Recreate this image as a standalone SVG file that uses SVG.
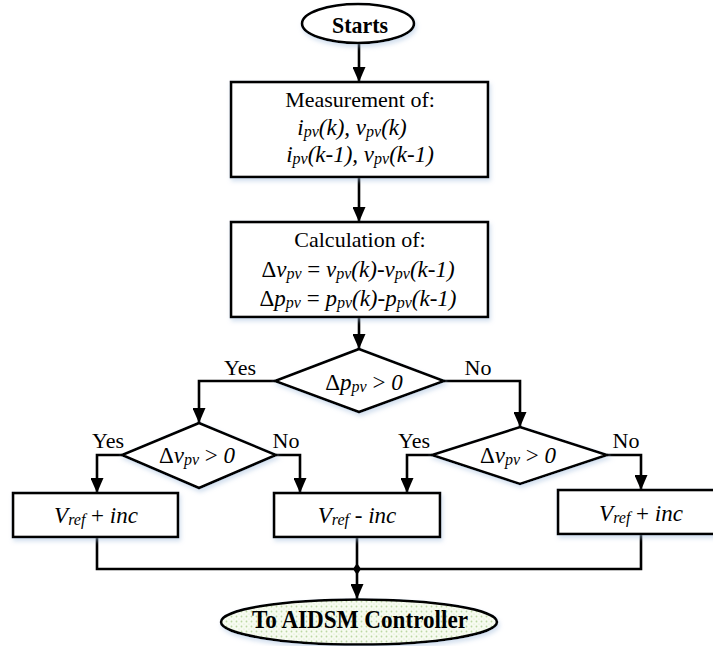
<svg xmlns="http://www.w3.org/2000/svg" width="713" height="646" viewBox="0 0 713 646">
  <style>
    .shape { fill: #ffffff; stroke: #000000; stroke-width: 2.6; filter: url(#soft); }
    .term { stroke: #000000; stroke-width: 2.6; filter: url(#soft); }
    .wire { fill: none; stroke: #000000; stroke-width: 2.6; }
    text { font-family: 'Liberation Serif', Tinos, 'Times New Roman', Times, 'DejaVu Serif', 'Noto Serif', serif; fill: #000; }
    .lbl { font-size: 22px; }
    .math { font-size: 23px; font-style: italic; }
    .up { font-style: normal; }
    .sub { font-size: 16px; }
    .bold { font-weight: bold; }
  </style>
  <defs>
    <marker id="arrow" markerUnits="userSpaceOnUse" markerWidth="15" markerHeight="13" refX="15" refY="6.5" orient="auto">
      <path d="M0,0 L15,6.5 L0,13 z" fill="#000"/>
    </marker>
    <filter id="soft" x="-10%" y="-20%" width="120%" height="150%">
      <feDropShadow dx="1.5" dy="3" stdDeviation="2" flood-color="#9fbbdc" flood-opacity="0.45"/>
    </filter>
    <pattern id="dots" width="5" height="5" patternUnits="userSpaceOnUse">
      <rect width="5" height="5" fill="#f7fbf1"/>
      <circle cx="1.5" cy="1.5" r="0.9" fill="#bcd9a3"/>
      <circle cx="4" cy="4" r="0.6" fill="#d4e7c2"/>
    </pattern>
  </defs>

  <!-- connectors -->
  <g id="connectors">
    <path class="wire" d="M359,43 V82" marker-end="url(#arrow)"/>
    <path class="wire" d="M359,177 V222" marker-end="url(#arrow)"/>
    <path class="wire" d="M359,317 V349" marker-end="url(#arrow)"/>
    <path class="wire" d="M275,381 H199 V423" marker-end="url(#arrow)"/>
    <path class="wire" d="M444,381 H520 V427" marker-end="url(#arrow)"/>
    <path class="wire" d="M122,455 H97 V493" marker-end="url(#arrow)"/>
    <path class="wire" d="M276,455 H300 V493" marker-end="url(#arrow)"/>
    <path class="wire" d="M432,455 H407 V493" marker-end="url(#arrow)"/>
    <path class="wire" d="M607,455 H641 V490" marker-end="url(#arrow)"/>
    <path class="wire" d="M97,537 V569 H641 V534"/>
    <path class="wire" d="M357,537 V569"/>
    <path class="wire" d="M357,569 V599" marker-end="url(#arrow)"/>
    <path d="M357,563 L361,569 L357,575 L353,569 z" fill="#000"/>
  </g>

  <!-- start terminal -->
  <g id="start">
    <ellipse class="term" cx="358" cy="23.5" rx="56" ry="19.5" fill="#ffffff"/>
    <text class="bold" x="360" y="33" font-size="24" text-anchor="middle" textLength="56" lengthAdjust="spacingAndGlyphs">Starts</text>
  </g>

  <!-- measurement block -->
  <g id="measure">
    <rect class="shape" x="231" y="82" width="257" height="95"/>
    <text class="lbl" x="360" y="107" text-anchor="middle">Measurement of:</text>
    <text class="math" x="352" y="135" text-anchor="middle">i<tspan class="sub" dy="2">pv</tspan><tspan dy="-2">(k), v</tspan><tspan class="sub" dy="2">pv</tspan><tspan dy="-2">(k)</tspan></text>
    <text class="math" x="360" y="162" text-anchor="middle">i<tspan class="sub" dy="2">pv</tspan><tspan dy="-2">(k-1), v</tspan><tspan class="sub" dy="2">pv</tspan><tspan dy="-2">(k-1)</tspan></text>
  </g>

  <!-- calculation block -->
  <g id="calc">
    <rect class="shape" x="231" y="222" width="257" height="95"/>
    <text class="lbl" x="360" y="247" text-anchor="middle">Calculation of:</text>
    <text class="math" x="358" y="277" text-anchor="middle"><tspan class="up">Δ</tspan>v<tspan class="sub" dy="2">pv</tspan><tspan class="up" dy="-2"> = </tspan>v<tspan class="sub" dy="2">pv</tspan><tspan dy="-2">(k)-v</tspan><tspan class="sub" dy="2">pv</tspan><tspan dy="-2">(k-1)</tspan></text>
    <text class="math" x="358" y="306" text-anchor="middle"><tspan class="up">Δ</tspan>p<tspan class="sub" dy="2">pv</tspan><tspan class="up" dy="-2"> = </tspan>p<tspan class="sub" dy="2">pv</tspan><tspan dy="-2">(k)-p</tspan><tspan class="sub" dy="2">pv</tspan><tspan dy="-2">(k-1)</tspan></text>
  </g>

  <!-- decision: power change -->
  <g id="dec-power">
    <polygon class="shape" points="359,349 444,381 359,412 275,381"/>
    <text class="math" x="364" y="390" text-anchor="middle"><tspan class="up">Δ</tspan>p<tspan class="sub" dy="2">pv</tspan><tspan class="up" dy="-2"> &gt; </tspan>0</text>
    <text class="lbl" x="240" y="375" text-anchor="middle">Yes</text>
    <text class="lbl" x="478" y="375" text-anchor="middle">No</text>
  </g>

  <!-- decision: voltage change (left) -->
  <g id="dec-volt-left">
    <polygon class="shape" points="199,423 276,455 199,488 122,455"/>
    <text class="math" x="197" y="463" text-anchor="middle"><tspan class="up">Δ</tspan>v<tspan class="sub" dy="2">pv</tspan><tspan class="up" dy="-2"> &gt; </tspan>0</text>
    <text class="lbl" x="108" y="448" text-anchor="middle">Yes</text>
    <text class="lbl" x="286" y="448" text-anchor="middle">No</text>
  </g>

  <!-- decision: voltage change (right) -->
  <g id="dec-volt-right">
    <polygon class="shape" points="520,427 607,455 520,484 432,455"/>
    <text class="math" x="518" y="463" text-anchor="middle"><tspan class="up">Δ</tspan>v<tspan class="sub" dy="2">pv</tspan><tspan class="up" dy="-2"> &gt; </tspan>0</text>
    <text class="lbl" x="414" y="448" text-anchor="middle">Yes</text>
    <text class="lbl" x="626" y="448" text-anchor="middle">No</text>
  </g>

  <!-- reference update blocks -->
  <g id="inc-left">
    <rect class="shape" x="13" y="493" width="165" height="44"/>
    <text class="math" x="96" y="523" text-anchor="middle">V<tspan class="sub" dy="2">ref</tspan><tspan class="up" dy="-2"> + </tspan>inc</text>
  </g>
  <g id="dec-mid">
    <rect class="shape" x="274" y="493" width="166" height="44"/>
    <text class="math" x="357" y="523" text-anchor="middle">V<tspan class="sub" dy="2">ref</tspan><tspan class="up" dy="-2"> - </tspan>inc</text>
  </g>
  <g id="inc-right">
    <rect class="shape" x="558" y="490" width="166" height="44"/>
    <text class="math" x="641" y="521" text-anchor="middle">V<tspan class="sub" dy="2">ref</tspan><tspan class="up" dy="-2"> + </tspan>inc</text>
  </g>

  <!-- end terminal -->
  <g id="end">
    <ellipse class="term" cx="359" cy="622" rx="138" ry="22.5" fill="url(#dots)"/>
    <text class="bold" x="360" y="628" font-size="25" text-anchor="middle" textLength="216" lengthAdjust="spacingAndGlyphs">To AIDSM Controller</text>
  </g>
</svg>
